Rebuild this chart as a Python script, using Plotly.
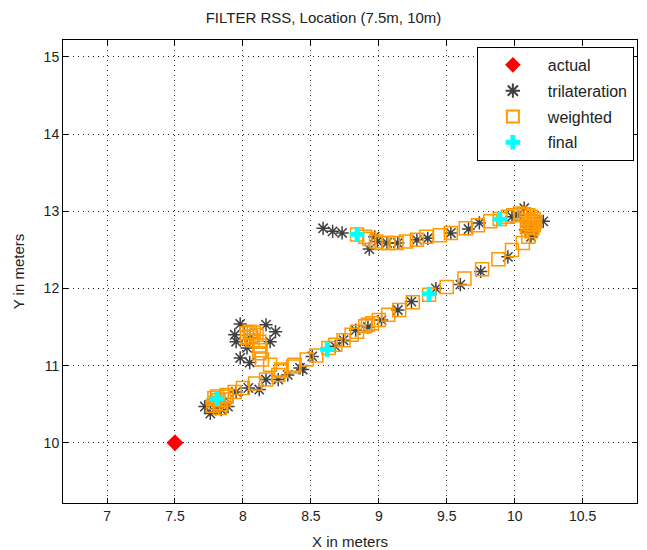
import plotly.graph_objects as go

# True position of the device
actual_x = [7.5]
actual_y = [10.0]

# Raw trilateration estimates
tri_x = [7.72, 7.76, 7.89, 7.85, 7.80, 7.84,
         7.95, 8.04, 8.12, 8.17, 8.26, 8.33, 8.44, 8.42, 8.51, 8.68, 8.74, 8.83,
         8.92, 9.02, 9.14, 9.24, 9.42, 9.60, 9.75, 9.95, 10.12, 10.13, 10.21,
         10.07, 10.08, 10.09,
         7.98, 8.17, 8.24, 7.94, 7.95, 8.20, 7.98, 8.05, 8.03, 8.05,
         9.74, 9.66, 9.53, 9.36, 9.28, 9.14, 9.06, 8.99, 8.97, 8.93, 8.73, 8.66,
         8.59, 9.98, 10.02]
tri_y = [10.47, 10.38, 10.47, 10.52, 10.44, 10.43,
         10.66, 10.71, 10.69, 10.82, 10.82, 10.88, 10.95, 10.97, 11.12, 11.25, 11.33, 11.46,
         11.50, 11.59, 11.72, 11.83, 12.00, 12.05, 12.22, 12.41, 12.67, 12.72, 12.87,
         13.04, 12.76, 12.80,
         11.54, 11.53, 11.44, 11.40, 11.31, 11.31, 11.10, 11.04, 11.23, 11.36,
         12.85, 12.77, 12.72, 12.65, 12.63, 12.59, 12.59, 12.61, 12.67, 12.51, 12.72, 12.74,
         12.78, 12.93, 12.95]

# Weighted estimates
w_x = [7.78, 7.80, 7.82, 7.79, 7.84, 7.86, 7.83, 7.88, 7.81,
       7.88, 7.94, 8.00, 8.09, 8.17, 8.26, 8.28, 8.37, 8.38, 8.47, 8.54, 8.63, 8.68,
       8.74, 8.80, 8.84, 8.90, 8.92, 8.95, 9.00, 9.07, 9.15, 9.25, 9.37, 9.50, 9.63,
       9.76, 9.88, 9.98, 10.06, 10.10, 10.12,
       10.13, 10.14, 10.15, 10.14, 10.12, 10.10, 10.07, 10.10, 10.11, 10.09, 10.12,
       10.04, 9.99, 9.95, 9.89, 9.82, 9.73, 9.64, 9.53, 9.45, 9.35, 9.28, 9.20, 9.13,
       9.07, 9.02, 8.98, 8.93, 8.90, 8.84,
       8.03, 8.05, 8.08, 8.10, 8.06, 8.03, 8.07, 8.12, 8.12, 8.13, 8.12, 8.14, 8.20, 8.28]
w_y = [10.48, 10.52, 10.55, 10.58, 10.50, 10.56, 10.45, 10.60, 10.60,
       10.62, 10.66, 10.71, 10.77, 10.82, 10.88, 10.95, 10.99, 11.01, 11.08, 11.13, 11.23, 11.27,
       11.33, 11.40, 11.44, 11.51, 11.53, 11.55, 11.59, 11.66, 11.72, 11.82, 11.92, 12.02, 12.13,
       12.25, 12.38, 12.50, 12.59, 12.67, 12.74,
       12.78, 12.82, 12.86, 12.90, 12.93, 12.95, 12.96, 12.88, 12.84, 12.80, 12.87,
       12.97, 12.95, 12.93, 12.90, 12.87, 12.82, 12.78, 12.72, 12.69, 12.67, 12.63, 12.61, 12.59,
       12.59, 12.59, 12.61, 12.64, 12.67, 12.70,
       11.42, 11.44, 11.43, 11.40, 11.38, 11.36, 11.33, 11.31, 11.26, 11.20, 11.16, 11.08, 11.01, 10.93]

# Final filtered positions
f_x = [7.81, 8.62, 9.37, 9.89, 8.84]
f_y = [10.57, 11.21, 11.93, 12.90, 12.70]

x_ticks = [7, 7.5, 8, 8.5, 9, 9.5, 10, 10.5]
y_ticks = [10, 11, 12, 13, 14, 15]

FONT = "Liberation Sans, Arial, sans-serif"

fig = go.Figure()
fig.add_trace(go.Scatter(
    x=actual_x, y=actual_y, mode="markers", name="actual", legendgroup="a",
    marker=dict(symbol="diamond", size=13, color="#ff0000", line=dict(width=0))))
fig.add_trace(go.Scatter(
    x=tri_x, y=tri_y, mode="markers", name="trilateration", legendgroup="b",
    marker=dict(symbol="asterisk-open", size=11, color="#404040",
                line=dict(color="#404040", width=1.5))))
fig.add_trace(go.Scatter(
    x=w_x, y=w_y, mode="markers", name="weighted", legendgroup="c",
    marker=dict(symbol="square-open", size=13, color="#ff9900",
                line=dict(color="#ff9900", width=1.5))))
fig.add_trace(go.Scatter(
    x=f_x, y=f_y, mode="markers", name="final", legendgroup="d",
    marker=dict(symbol="cross", size=12, color="#00ffff", line=dict(width=0))))

axis_common = dict(
    showline=True, linecolor="black", linewidth=1, mirror="allticks",
    ticks="inside", ticklen=5, tickcolor="black",
    showgrid=True, gridcolor="#222222", gridwidth=1, griddash="1px,4px",
    zeroline=False, automargin=False,
    tickfont=dict(family=FONT, size=14, color="#222222"),
)

fig.update_layout(
    width=647, height=550,
    margin=dict(l=63, r=10, t=40, b=47),
    paper_bgcolor="white", plot_bgcolor="white",
    title=dict(text="FILTER RSS, Location (7.5m, 10m)", x=0.5, xanchor="center",
               y=1 - 18 / 550, yanchor="middle",
               font=dict(family=FONT, size=15, color="#222222")),
    xaxis=dict(range=[6.676, 10.9], tickvals=x_ticks,
               title=dict(text="X in meters",
                          font=dict(family=FONT, size=15, color="#222222")),
               **axis_common),
    yaxis=dict(range=[9.22, 15.22], tickvals=y_ticks,
               title=dict(text="Y in meters",
                          font=dict(family=FONT, size=15, color="#222222")),
               **axis_common),
    legend=dict(x=0.721, y=0.985, xanchor="left", yanchor="top",
                bgcolor="white", bordercolor="black", borderwidth=1,
                font=dict(family=FONT, size=16, color="#222222"),
                itemwidth=60, tracegroupgap=2, itemsizing="constant"),
    showlegend=True,
)

fig.write_html("out.html")
